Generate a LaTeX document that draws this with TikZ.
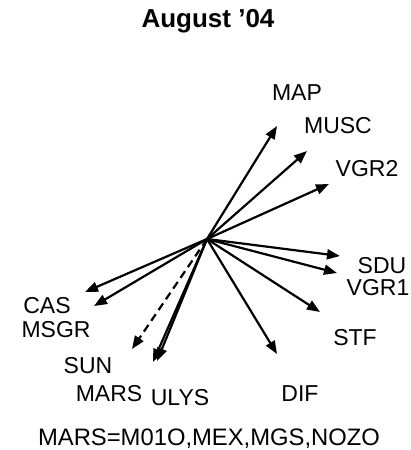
\documentclass[tikz,border=0pt]{standalone}
\usepackage{fontspec}
\setmainfont{Liberation Sans}
\usetikzlibrary{arrows.meta}
\begin{document}
\begin{tikzpicture}[x=1pt,y=-1pt,
  vec/.style={line width=2.2pt,-{Triangle[length=13pt,width=10pt]}},
  dvec/.style={vec,dash pattern=on 8pt off 5pt},
  lbl/.style={anchor=base,inner sep=0pt,font=\fontsize{23}{23}\selectfont},
  ttl/.style={anchor=base,inner sep=0pt,font=\fontsize{26}{26}\selectfont\bfseries}]
\useasboundingbox (0,0) rectangle (411,450);
\node[ttl] (title) at (208,27) {August ’04};
\coordinate (c) at (207,239);
\coordinate (tMAP) at (277,126);
\coordinate (tMUSC) at (307,151);
\coordinate (tVGR2) at (329,184);
\coordinate (tSDU) at (340,256);
\coordinate (tVGR1) at (337,273);
\coordinate (tSTF) at (320,312);
\coordinate (tDIF) at (277,354);
\coordinate (tCAS) at (85,292);
\coordinate (tMSGR) at (94,306);
\coordinate (tSUN) at (132,349);
\coordinate (tMARS) at (153,362);
\coordinate (tULYS) at (157,361);
\draw[vec] (c) -- (tMAP);
\draw[vec] (c) -- (tMUSC);
\draw[vec] (c) -- (tVGR2);
\draw[vec] (c) -- (tSDU);
\draw[vec] (c) -- (tVGR1);
\draw[vec] (c) -- (tSTF);
\draw[vec] (c) -- (tDIF);
\draw[vec] (c) -- (tCAS);
\draw[vec] (c) -- (tMSGR);
\draw[dvec] (c) -- (tSUN);
\draw[vec] (c) -- (tMARS);
\draw[vec] (c) -- (tULYS);
\node[lbl] (lMAP) at (297,100) {MAP};
\node[lbl] (lMUSC) at (338,133) {MUSC};
\node[lbl] (lVGR2) at (367,176) {VGR2};
\node[lbl] (lSDU) at (382,273) {SDU};
\node[lbl] (lVGR1) at (378,295) {VGR1};
\node[lbl] (lSTF) at (355,345) {STF};
\node[lbl] (lDIF) at (300,401) {DIF};
\node[lbl] (lCAS) at (47,313) {CAS};
\node[lbl] (lMSGR) at (56,337) {MSGR};
\node[lbl] (lSUN) at (88,373) {SUN};
\node[lbl] (lMARS) at (109,401) {MARS};
\node[lbl] (lULYS) at (180,405) {ULYS};
\node[lbl,font=\fontsize{23.8}{24}\selectfont] (note) at (209,445) {MARS=M01O,MEX,MGS,NOZO};
\end{tikzpicture}
\end{document}
